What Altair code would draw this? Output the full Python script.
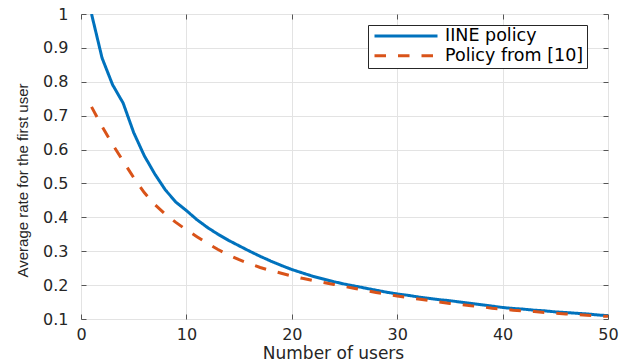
import altair as alt
import pandas as pd

users = list(range(1, 51))
iine_policy = [1.000, 0.870, 0.791, 0.737, 0.650, 0.582, 0.528, 0.481, 0.445, 0.420,
               0.393, 0.370, 0.350, 0.332, 0.316, 0.300, 0.285, 0.271, 0.258, 0.246,
               0.236, 0.226, 0.218, 0.210, 0.203, 0.197, 0.191, 0.185, 0.179, 0.174,
               0.170, 0.165, 0.161, 0.157, 0.154, 0.150, 0.146, 0.142, 0.138, 0.134,
               0.131, 0.129, 0.126, 0.124, 0.121, 0.119, 0.117, 0.115, 0.112, 0.110]
policy_10 = [0.726, 0.668, 0.615, 0.566, 0.517, 0.473, 0.438, 0.409, 0.385, 0.363,
             0.343, 0.323, 0.305, 0.289, 0.275, 0.263, 0.252, 0.243, 0.235, 0.227,
             0.220, 0.214, 0.208, 0.202, 0.196, 0.190, 0.184, 0.178, 0.173, 0.168,
             0.163, 0.159, 0.155, 0.150, 0.146, 0.143, 0.139, 0.136, 0.132, 0.129,
             0.126, 0.124, 0.122, 0.119, 0.117, 0.115, 0.113, 0.111, 0.109, 0.108]
series_names = ["IINE policy", "Policy from [10]"]
series_colors = ["#0072BD", "#D95319"]
series_dashes = [[1, 0], [11.5, 12]]
x_ticks = [0, 10, 20, 30, 40, 50]
y_ticks = [0.1, 0.2, 0.3, 0.4, 0.5, 0.6, 0.7, 0.8, 0.9, 1.0]

df = pd.concat([
    pd.DataFrame({"users": users, "rate": iine_policy, "series": series_names[0]}),
    pd.DataFrame({"users": users, "rate": policy_10, "series": series_names[1]}),
])

W, H = 527, 305
TXT = "#262626"
AX = "#555555"

xscale = alt.Scale(domain=[0, 50], nice=False, zero=False)
yscale = alt.Scale(domain=[0.1, 1.0], nice=False, zero=False)

main = alt.Chart(df).mark_line(strokeWidth=3, clip=True).encode(
    x=alt.X("users:Q", scale=xscale,
            axis=alt.Axis(orient="bottom", values=x_ticks, title="Number of users",
                          ticks=False, tickSize=0, domain=False, grid=True,
                          gridColor="#e3e3e3", gridWidth=1, labelFlush=False,
                          labelFont="DejaVu Sans", labelFontSize=16, labelColor=TXT,
                          labelPadding=7,
                          titleFont="DejaVu Sans", titleFontSize=17, titleColor=TXT,
                          titleFontWeight="normal", titleBaseline="alphabetic",
                          titleX=252, titleY=39)),
    y=alt.Y("rate:Q", scale=yscale,
            axis=alt.Axis(orient="left", values=y_ticks, format="~g",
                          title="Average rate for the first user",
                          ticks=False, tickSize=0, domain=False, grid=True,
                          gridColor="#e3e3e3", gridWidth=1, labelFlush=False,
                          labelFont="DejaVu Sans", labelFontSize=16, labelColor=TXT,
                          labelPadding=13,
                          titleFont="Liberation Sans", titleFontSize=15, titleColor=TXT,
                          titleFontWeight="normal", titleBaseline="bottom",
                          titleX=-51, titleY=166)),
    color=alt.Color("series:N", title=None,
                    scale=alt.Scale(domain=series_names, range=series_colors),
                    legend=alt.Legend(orient="none", legendX=287, legendY=11,
                                      symbolType="stroke", symbolSize=3969,
                                      symbolStrokeWidth=3, symbolOffset=2,
                                      clipHeight=16, rowPadding=1.7,
                                      labelFont="DejaVu Sans",
                                      labelFontSize=17.5, labelColor="black",
                                      strokeColor="#262626", fillColor="white",
                                      padding=3, labelOffset=6)),
    strokeDash=alt.StrokeDash("series:N", title=None,
                              scale=alt.Scale(domain=series_names, range=series_dashes)),
)

tick_style = dict(labels=False, ticks=True, tickSize=5, tickColor=AX, tickWidth=1,
                  domain=False, grid=False, title=None)

inner1 = alt.Chart(df).mark_line(opacity=0).encode(
    x=alt.X("users:Q", scale=xscale,
            axis=alt.Axis(orient="top", offset=-H, values=x_ticks, **tick_style)),
    y=alt.Y("rate:Q", scale=yscale,
            axis=alt.Axis(orient="right", offset=-W, values=y_ticks, **tick_style)),
)
inner2 = alt.Chart(df).mark_line(opacity=0).encode(
    x=alt.X("users:Q", scale=xscale,
            axis=alt.Axis(orient="bottom", offset=-H, values=x_ticks, **tick_style)),
    y=alt.Y("rate:Q", scale=yscale,
            axis=alt.Axis(orient="left", offset=-W, values=y_ticks, **tick_style)),
)

chart = alt.layer(main, inner1, inner2).properties(
    width=W, height=H,
    autosize=alt.AutoSizeParams(type="none"),
    padding={"left": 81, "top": 14, "right": 24, "bottom": 43},
).configure_view(stroke=AX, strokeWidth=1.5).configure(background="white")

chart.save("out.html", embed_options={"renderer": "svg", "actions": False})
